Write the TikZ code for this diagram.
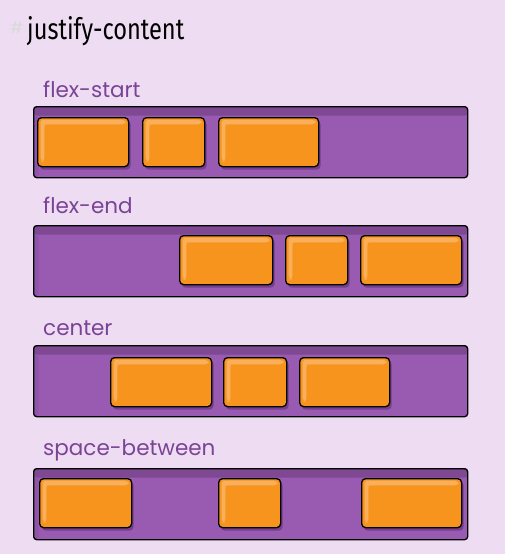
\documentclass[tikz,border=0pt]{standalone}
\usepackage{fontspec}
\setmainfont{Poppins}
\newfontfamily\titlefont[FakeStretch=0.8]{Fira Sans}
\definecolor{bg}{HTML}{EEDDF2}
\definecolor{boxpurple}{HTML}{985BB1}
\definecolor{bandpurple}{HTML}{7E4893}
\definecolor{shadepurple}{HTML}{763F8C}
\definecolor{itemorange}{HTML}{F7941E}
\definecolor{itemlight}{HTML}{FAB05A}
\definecolor{labelpurple}{HTML}{7A4396}
\begin{document}
\begin{tikzpicture}[x=1pt,y=-1pt]
        % Styles
        \tikzstyle{label text}=[anchor=base west,inner sep=0pt,text=labelpurple,font=\fontsize{21.5}{21.5}\selectfont]
        \tikzstyle{flexbox}=[draw=black,line width=1.3pt,fill=boxpurple,rounded corners=3pt,
            anchor=north west,inner sep=0pt,minimum width=434pt,minimum height=71pt,
            path picture={\fill[bandpurple] (path picture bounding box.north west) rectangle ([yshift=-9pt]path picture bounding box.north east);
                          \fill[bandpurple!35!boxpurple] ([yshift=-9pt]path picture bounding box.north west) rectangle ([xshift=5pt]path picture bounding box.south west);}]
        \tikzstyle{item}=[draw=black,line width=1.3pt,fill=itemorange,rounded corners=4pt,
            anchor=north west,inner sep=0pt,minimum height=49pt,
            preaction={fill=shadepurple,transform canvas={shift={(2pt,-3pt)}}},
            path picture={\fill[itemlight] ([shift={(3pt,-2pt)}]path picture bounding box.north west) rectangle ([shift={(-3pt,-7pt)}]path picture bounding box.north east);
                          \fill[itemlight] ([shift={(3pt,-2pt)}]path picture bounding box.north west) rectangle ([shift={(7pt,5pt)}]path picture bounding box.south west);
                          \fill[itemorange,rounded corners=3pt] ([shift={(7pt,-7pt)}]path picture bounding box.north west) rectangle ([shift={(-1pt,1pt)}]path picture bounding box.south east);}]
        %background
        \useasboundingbox (0,0) rectangle (504,554);
        \fill[bg] (-6,-6) rectangle (510,560);
        %title
        \node[anchor=base west,inner sep=0pt,text=black!15,font=\fontsize{16}{16}\selectfont] (hash) at (10,33) {\#};
        \node[anchor=base west,inner sep=0pt,font=\titlefont\fontsize{29.5}{29.5}\selectfont] (title) at (27,39) {justify-content};
        %containers
        \foreach \name/\txt/\top/\lift in {start/flex-start/106/9, end/flex-end/225/12, center/center/345/10, between/space-between/468/13}
        {
            \node[label text] (\name-label) at (43,\top-\lift) {\txt};
            \node[flexbox] (\name) at (33,\top) {};
        }
        %items
        \foreach \name/\top/\list in {start/117/{37/128,142/204,218/318}, end/235/{179/272,285/347,360/461},
                                      center/357/{110/211,223/286,299/389}, between/478/{39/131,218/280,361/461}}
        {
            \foreach \xa/\xb [count=\i] in \list
                \node[item,minimum width={\xb-\xa}] (\name-\i) at (\xa,\top) {};
        }
\end{tikzpicture}
\end{document}
